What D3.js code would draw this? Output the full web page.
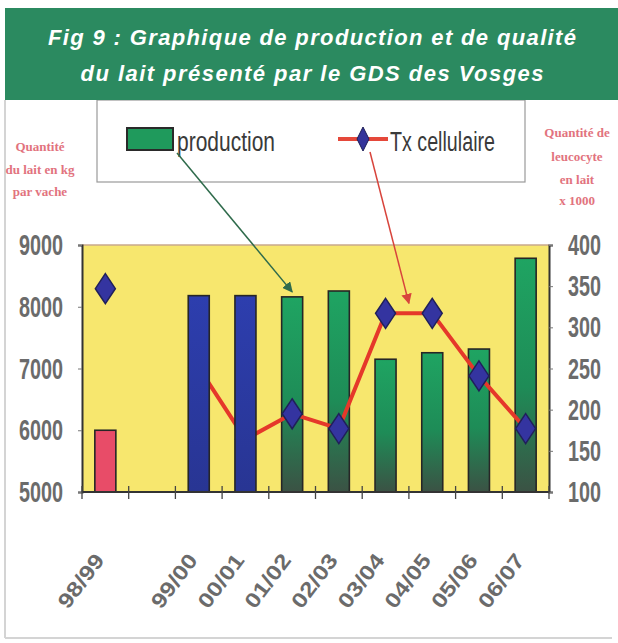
<!DOCTYPE html>
<html>
<head>
<meta charset="utf-8">
<script src="https://cdn.jsdelivr.net/npm/d3@7"></script>
<style>
  body { margin: 0; background: #fff; }
  svg { display: block; }
</style>
</head>
<body>
<svg id="chart"></svg>
<script>
// chart values
var categories = ['98/99', '', '99/00', '00/01', '01/02', '02/03', '03/04', '04/05', '05/06', '06/07'];
var production = [6000, null, 8180, 8180, 8160, 8255, 7150, 7255, 7315, 8785];
var cellCount = [347, null, 251, 164, 195, 177, 317, 317, 241, 177];
var barGroup = ['red', '', 'blue', 'blue', 'green', 'green', 'green', 'green', 'green', 'green'];
var leftTicks = [5000, 6000, 7000, 8000, 9000];
var rightTicks = [100, 150, 200, 250, 300, 350, 400];
var titleLines = ['Fig 9 : Graphique de production et de qualité', 'du lait présenté par le GDS des Vosges'];
var leftLabel = ['Quantité', 'du lait en kg', 'par vache'];
var rightLabel = ['Quantité de', 'leucocyte', 'en lait', 'x 1000'];
var legendLabels = ['production', 'Tx cellulaire'];

// layout
var W = 618, H = 643;
var plot = {left: 82, right: 549, top: 245, bottom: 492};
var grey = '#6b6b6b';

var svg = d3.select('#chart').attr('width', W).attr('height', H);

// gradients for the bars
var defs = svg.append('defs');
function grad(id, stops) {
  var g = defs.append('linearGradient').attr('id', id)
    .attr('x1', 0).attr('y1', 0).attr('x2', 0).attr('y2', 1);
  stops.forEach(function(s) {
    g.append('stop').attr('offset', s[0]).attr('stop-color', s[1]);
  });
}
grad('gGreen', [[0, '#1fa462'], [0.55, '#1e8c57'], [1, '#3b5244']]);
grad('gBlue', [[0, '#2d3eae'], [1, '#283593']]);
defs.append('marker').attr('id', 'arrGreen')
  .attr('viewBox', '0 0 10 10').attr('refX', 9).attr('refY', 5)
  .attr('markerWidth', 7).attr('markerHeight', 7).attr('orient', 'auto')
  .append('path').attr('d', 'M0,0L10,5L0,10Z').attr('fill', '#2f6b4c');
defs.append('marker').attr('id', 'arrRed')
  .attr('viewBox', '0 0 10 10').attr('refX', 9).attr('refY', 5)
  .attr('markerWidth', 7).attr('markerHeight', 7).attr('orient', 'auto')
  .append('path').attr('d', 'M0,0L10,5L0,10Z').attr('fill', '#d8443c');

var fillFor = d3.scaleOrdinal()
  .domain(['red', 'blue', 'green'])
  .range(['#e84c68', 'url(#gBlue)', 'url(#gGreen)']);

// scales
var x = d3.scaleBand().domain(categories)
  .range([plot.left, plot.right])
  .paddingInner(0.55).paddingOuter(0.275);
var yL = d3.scaleLinear().domain([5000, 9000]).range([plot.bottom, plot.top]);
var yR = d3.scaleLinear().domain([100, 400]).range([plot.bottom, plot.top]);
function cx(c) { return x(c) + x.bandwidth() / 2; }

// outer frame
svg.append('line').attr('x1', 5).attr('x2', 5).attr('y1', 100).attr('y2', 638)
  .attr('stroke', '#d4d4d4').attr('stroke-width', 2);
svg.append('line').attr('x1', 5).attr('x2', 612).attr('y1', 638).attr('y2', 638)
  .attr('stroke', '#d4d4d4').attr('stroke-width', 2);

// legend box
var legend = svg.append('g');
legend.append('rect')
  .attr('x', 97).attr('y', 100).attr('width', 428).attr('height', 82)
  .attr('fill', '#fff').attr('stroke', '#9a9a9a').attr('stroke-width', 1.2);

// title banner
svg.append('rect').attr('x', 5).attr('y', 8).attr('width', 613).attr('height', 92)
  .attr('fill', '#2b8a60');
svg.selectAll('text.title')
  .data(titleLines)
  .enter()
  .append('text')
    .classed('title', true)
    .attr('x', 312)
    .attr('y', function(d, i) { return 45 + i * 36; })
    .attr('text-anchor', 'middle')
    .attr('textLength', function(d, i) { return i === 0 ? 528 : 463; })
    .attr('lengthAdjust', 'spacing')
    .style('font-family', 'Liberation Sans, Arial, sans-serif')
    .style('font-size', '22px')
    .style('font-weight', 'bold')
    .style('font-style', 'italic')
    .style('fill', '#fff')
    .text(function(d) { return d; });

// legend content
legend.append('rect')
  .attr('x', 127).attr('y', 128).attr('width', 46).attr('height', 22)
  .attr('fill', '#1f9a5c').attr('stroke', '#2a2a2a').attr('stroke-width', 2);
legend.append('text')
  .attr('x', 177).attr('y', 151)
  .attr('textLength', 98).attr('lengthAdjust', 'spacingAndGlyphs')
  .style('font-family', 'Liberation Sans, Arial, sans-serif')
  .style('font-size', '27px').style('fill', '#3a3a3a')
  .text(legendLabels[0]);
legend.append('line')
  .attr('x1', 338).attr('x2', 388).attr('y1', 139).attr('y2', 139)
  .attr('stroke', '#e5483a').attr('stroke-width', 4);
legend.append('path')
  .attr('d', 'M0,-12L6,0L0,12L-6,0Z')
  .attr('transform', 'translate(363,139)')
  .attr('fill', '#34349a').attr('stroke', '#1c1c55');
legend.append('text')
  .attr('x', 390).attr('y', 151)
  .attr('textLength', 105).attr('lengthAdjust', 'spacingAndGlyphs')
  .style('font-family', 'Liberation Sans, Arial, sans-serif')
  .style('font-size', '27px').style('fill', '#3a3a3a')
  .text(legendLabels[1]);

// axis titles
function sideLabel(lines, cxPos, ys) {
  svg.selectAll(null)
    .data(lines)
    .enter()
    .append('text')
      .attr('x', cxPos)
      .attr('y', function(d, i) { return ys[i]; })
      .attr('text-anchor', 'middle')
      .style('font-family', 'Liberation Serif, serif')
      .style('font-size', '13px')
      .style('font-weight', 'bold')
      .style('fill', '#e2737e')
      .text(function(d) { return d; });
}
sideLabel(leftLabel, 40, [151, 174, 196]);
sideLabel(rightLabel, 577, [137, 161, 184, 205]);

// plot background
svg.append('rect')
  .attr('x', plot.left).attr('y', plot.top)
  .attr('width', plot.right - plot.left).attr('height', plot.bottom - plot.top)
  .attr('fill', '#f7e76e');
svg.append('line')
  .attr('x1', plot.left).attr('x2', plot.right).attr('y1', plot.top).attr('y2', plot.top)
  .attr('stroke', '#c9a88c').attr('stroke-width', 1.5);

// bars; the blue ones are drawn later, over the line, as in the scan
var barData = categories.map(function(c, i) { return {c: c, v: production[i], g: barGroup[i]}; })
  .filter(function(d) { return d.v != null; });
function drawBars(sel) {
  sel.append('rect')
    .classed('bar', true)
    .attr('x', function(d) { return x(d.c); })
    .attr('y', function(d) { return yL(d.v); })
    .attr('width', x.bandwidth())
    .attr('height', function(d) { return plot.bottom - yL(d.v); })
    .attr('fill', function(d) { return fillFor(d.g); })
    .attr('stroke', '#262626')
    .attr('stroke-width', 1.6);
}
svg.append('g').selectAll('rect')
  .data(barData.filter(function(d) { return d.g !== 'blue'; }))
  .enter()
  .call(drawBars);

// cell count line
var pts = categories.map(function(c, i) { return {c: c, v: cellCount[i]}; });
svg.append('path')
  .datum(pts)
  .attr('fill', 'none')
  .attr('stroke', '#e5382a')
  .attr('stroke-width', 4)
  .attr('stroke-linejoin', 'round')
  .attr('d', d3.line()
    .defined(function(d) { return d.v != null; })
    .x(function(d) { return cx(d.c); })
    .y(function(d) { return yR(d.v); }));

svg.selectAll('path.mark')
  .data(pts.filter(function(d) { return d.v != null; }))
  .enter()
  .append('path')
    .classed('mark', true)
    .attr('d', 'M0,-15L10,0L0,15L-10,0Z')
    .attr('transform', function(d) { return 'translate(' + cx(d.c) + ',' + yR(d.v) + ')'; })
    .attr('fill', '#3434a0')
    .attr('stroke', '#20205a')
    .attr('stroke-width', 1.5);

svg.append('g').selectAll('rect')
  .data(barData.filter(function(d) { return d.g === 'blue'; }))
  .enter()
  .call(drawBars);

// axes
var axisL = svg.append('g')
  .attr('transform', 'translate(' + plot.left + ',0)')
  .call(d3.axisLeft(yL).tickValues(leftTicks).tickFormat(d3.format('d')).tickSize(4).tickPadding(15));
var axisR = svg.append('g')
  .attr('transform', 'translate(' + plot.right + ',0)')
  .call(d3.axisRight(yR).tickValues(rightTicks).tickFormat(d3.format('d')).tickSize(4).tickPadding(15));
[axisL, axisR].forEach(function(a, k) {
  a.select('.domain').attr('stroke', '#333').attr('stroke-width', 2);
  a.selectAll('.tick line').attr('stroke', '#777');
  a.selectAll('.tick text')
    .attr('textLength', k === 0 ? 44 : 33)
    .attr('lengthAdjust', 'spacingAndGlyphs')
    .style('font-family', 'Liberation Sans, Arial, sans-serif')
    .style('font-size', '30px')
    .style('font-weight', 'bold')
    .style('fill', grey);
});

// bottom axis with ticks on band boundaries
svg.append('line')
  .attr('x1', plot.left).attr('x2', plot.right).attr('y1', plot.bottom).attr('y2', plot.bottom)
  .attr('stroke', '#333').attr('stroke-width', 2);
svg.selectAll('line.xtick')
  .data(categories.concat(['end']))
  .enter()
  .append('line')
    .classed('xtick', true)
    .attr('x1', function(d, i) { return plot.left + i * x.step(); })
    .attr('x2', function(d, i) { return plot.left + i * x.step(); })
    .attr('y1', plot.bottom - 6)
    .attr('y2', plot.bottom + 7)
    .attr('stroke', '#444').attr('stroke-width', 1.3);

svg.selectAll('text.xlabel')
  .data(categories.filter(function(c) { return c !== ''; }))
  .enter()
  .append('text')
    .classed('xlabel', true)
    .attr('transform', function(d) { return 'translate(' + (cx(d) - 6) + ',556) rotate(-53)'; })
    .attr('text-anchor', 'end')
    .attr('dy', '0.35em')
    .attr('textLength', 62)
    .attr('lengthAdjust', 'spacingAndGlyphs')
    .style('font-family', 'Liberation Sans, Arial, sans-serif')
    .style('font-size', '21px')
    .style('font-weight', 'bold')
    .style('fill', grey)
    .text(function(d) { return d; });

// annotation arrows from legend to the chart
svg.append('line')
  .attr('x1', 177).attr('y1', 153)
  .attr('x2', cx('01/02')).attr('y2', yL(production[4]) - 5)
  .attr('stroke', '#2f6b4c').attr('stroke-width', 1.5)
  .attr('marker-end', 'url(#arrGreen)');
svg.append('line')
  .attr('x1', 370).attr('y1', 152)
  .attr('x2', (cx('03/04') + cx('04/05')) / 2).attr('y2', yR(cellCount[6]) - 10)
  .attr('stroke', '#d8443c').attr('stroke-width', 1.5)
  .attr('marker-end', 'url(#arrRed)');
</script>
</body>
</html>
